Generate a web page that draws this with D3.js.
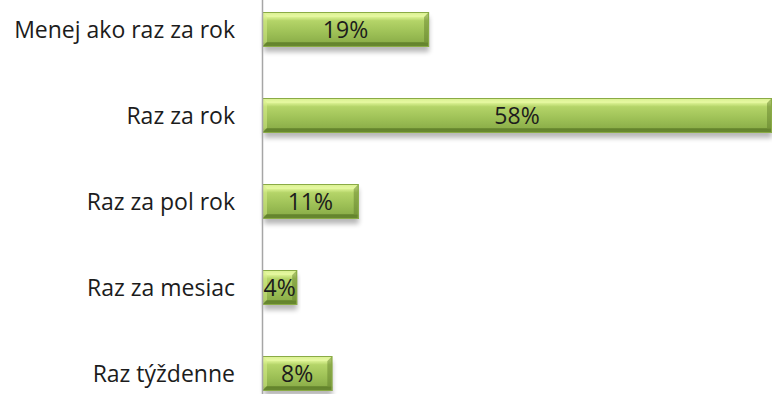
<!DOCTYPE html>
<html><head><meta charset="utf-8">
<script src="https://cdn.jsdelivr.net/npm/d3@7"></script>
<style>html,body{margin:0;padding:0;background:#fff;}svg{display:block;}</style>
</head><body>
<svg id="chart" width="772" height="394"></svg>
<script>
const categories = ["Menej ako raz za rok", "Raz za rok", "Raz za pol rok", "Raz za mesiac", "Raz týždenne"];
const values = [19, 58, 11, 4, 8];
const valueLabels = ["19%", "58%", "11%", "4%", "8%"];

const W = 772, H = 394;
const svg = d3.select("#chart");
const x = d3.scaleLinear().domain([0, 58]).range([262, 772]);
const y = d3.scaleBand().domain(categories).range([12, 391]).paddingInner(51/86).paddingOuter(0);

const defs = svg.append("defs");
const g = defs.append("linearGradient").attr("id","barGrad").attr("x1",0).attr("y1",0).attr("x2",0).attr("y2",1);
[[0,"#c9e57c"],[0.12,"#e2f79a"],[0.25,"#b4d468"],[0.6,"#9dc056"],[0.85,"#8db04a"],[0.9,"#6f8f35"],[1,"#7a9a3e"]]
  .forEach(([o,c]) => g.append("stop").attr("offset",o).attr("stop-color",c));
const f = defs.append("filter").attr("id","shadow").attr("x","-10%").attr("y","-50%").attr("width","120%").attr("height","200%");
f.append("feGaussianBlur").attr("stdDeviation",2.5);

const bars = svg.append("g").selectAll("g").data(categories).join("g");
bars.append("rect")
  .attr("x", d => x(0) + 2)
  .attr("y", d => y(d) + 5)
  .attr("width", (d,i) => x(values[i]) - x(0) - 2)
  .attr("height", y.bandwidth())
  .attr("fill", "#000").attr("opacity", 0.28)
  .attr("filter", "url(#shadow)");
bars.append("rect")
  .attr("x", x(0))
  .attr("y", d => y(d))
  .attr("width", (d,i) => x(values[i]) - x(0))
  .attr("height", y.bandwidth())
  .attr("fill", "url(#barGrad)");
const bv = 5;
bars.each(function(d,i){
  const x0 = x(0), x1 = x(values[i]), y0 = y(d), y1 = y(d) + y.bandwidth();
  const s = d3.select(this);
  s.append("polygon").attr("points", `${x0},${y0} ${x1},${y0} ${x1-bv},${y0+bv} ${x0+bv},${y0+bv}`).attr("fill","#ebfaa8").attr("opacity",0.45);
  s.append("polygon").attr("points", `${x0},${y0} ${x0+bv},${y0+bv} ${x0+bv},${y1-bv} ${x0},${y1}`).attr("fill","#d9f08c").attr("opacity",0.5);
  s.append("polygon").attr("points", `${x1},${y0} ${x1},${y1} ${x1-bv},${y1-bv} ${x1-bv},${y0+bv}`).attr("fill","#5d7a28").attr("opacity",0.45);
  s.append("polygon").attr("points", `${x0},${y1} ${x1},${y1} ${x1-bv},${y1-bv} ${x0+bv},${y1-bv}`).attr("fill","#5a7a25").attr("opacity",0.5);
  s.append("rect").attr("x",x0+0.5).attr("y",y0+0.5).attr("width",Math.max(0,x1-x0-1)).attr("height",y.bandwidth()-1)
    .attr("fill","none").attr("stroke","#8aab46").attr("stroke-width",1);
});
bars.append("text")
  .attr("x", (d,i) => (x(0) + x(values[i])) / 2)
  .attr("y", d => y(d) + y.bandwidth()/2)
  .attr("dy", "0.38em")
  .attr("text-anchor", "middle")
  .attr("font-family", "Open Sans, sans-serif")
  .attr("font-size", 23)
  .attr("fill", "#1c1c1c")
  .text((d,i) => valueLabels[i]);

const axis = d3.axisLeft(y).tickSize(0).tickPadding(27);
const ag = svg.append("g").attr("transform", `translate(${x(0)},0)`).call(axis);
ag.select(".domain").attr("d", `M0.5,0V${H}`).attr("stroke","#a6a6a6").attr("stroke-width",1.5);
ag.selectAll("text").attr("font-family","Open Sans, sans-serif").attr("font-size",23).attr("fill","#1c1c1c").attr("dy","0.38em");
</script>
</body></html>
